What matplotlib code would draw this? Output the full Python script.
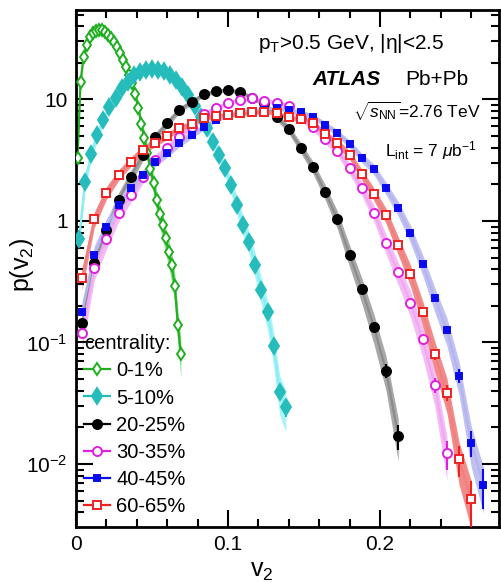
import numpy as np
import matplotlib
matplotlib.use("Agg")
import matplotlib.pyplot as plt
from matplotlib.ticker import FixedLocator, FixedFormatter, LogLocator, MultipleLocator, NullFormatter
from matplotlib.lines import Line2D

plt.rcParams['font.family'] = ['Liberation Sans', 'DejaVu Sans']
plt.rcParams['mathtext.fontset'] = 'custom'
plt.rcParams['mathtext.rm'] = 'Liberation Sans'
plt.rcParams['mathtext.it'] = 'Liberation Sans:italic'
plt.rcParams['mathtext.bf'] = 'Liberation Sans:bold'

# ---------------- data ----------------
labels = ["0-1%", "5-10%", "20-25%", "30-35%", "40-45%", "60-65%"]

v2_c0 = [0.001, 0.003, 0.005, 0.007, 0.009, 0.011, 0.013, 0.015, 0.017, 0.019,
         0.021, 0.023, 0.025, 0.027, 0.029, 0.031, 0.033, 0.035, 0.037, 0.039,
         0.041, 0.043, 0.045, 0.047, 0.049, 0.051, 0.053, 0.055, 0.057, 0.059,
         0.061, 0.063, 0.065, 0.067, 0.069]
p_c0 = [3.3, 14.0, 22.5, 28.0, 32.5, 35.0, 36.5, 37.3, 37.5, 36.0,
        34.0, 32.0, 29.5, 27.0, 24.0, 21.0, 18.5, 16.0, 13.6, 11.0,
        8.5, 6.3, 4.8, 3.6, 2.7, 2.05, 1.5, 1.15, 0.92, 0.72,
        0.56, 0.43, 0.29, 0.14, 0.08]

v2_c5 = [0.002, 0.006, 0.010, 0.014, 0.018, 0.022, 0.026, 0.030, 0.034, 0.038,
         0.042, 0.046, 0.050, 0.054, 0.058, 0.062, 0.066, 0.070, 0.074, 0.078,
         0.082, 0.086, 0.090, 0.094, 0.098, 0.102, 0.106, 0.110, 0.114, 0.118,
         0.122, 0.126, 0.130, 0.134, 0.138]
p_c5 = [0.707, 2.11, 3.58, 5.10, 6.78, 8.63, 10.2, 12.4, 14.0, 15.9,
        16.9, 17.5, 17.7, 17.5, 17.2, 15.9, 14.5, 12.7, 10.9, 8.9,
        7.22, 5.79, 4.50, 3.49, 2.71, 1.98, 1.35, 0.927, 0.668, 0.434,
        0.271, 0.177, 0.0941, 0.0394, 0.0293]

v2_c20 = [0.004, 0.012, 0.020, 0.028, 0.036, 0.044, 0.052, 0.060, 0.068, 0.076,
          0.084, 0.092, 0.100, 0.108, 0.116, 0.124, 0.132, 0.140, 0.148, 0.156,
          0.164, 0.172, 0.180, 0.188, 0.196, 0.204, 0.212]
p_c20 = [0.145, 0.451, 0.84, 1.49, 2.31, 3.49, 4.89, 6.37, 8.20, 9.53,
         11.0, 11.7, 12.0, 11.5, 10.3, 9.30, 7.21, 5.69, 3.99, 2.76,
         1.73, 1.03, 0.525, 0.275, 0.134, 0.0586, 0.0170]

v2_c30 = [0.004, 0.012, 0.020, 0.028, 0.036, 0.044, 0.052, 0.060, 0.068, 0.076,
          0.084, 0.092, 0.100, 0.108, 0.116, 0.124, 0.132, 0.140, 0.148, 0.156,
          0.164, 0.172, 0.180, 0.188, 0.196, 0.204, 0.212, 0.220, 0.228, 0.236,
          0.244]
p_c30 = [0.120, 0.408, 0.707, 1.16, 1.64, 2.31, 3.18, 3.99, 4.91, 5.94,
         7.55, 8.47, 9.30, 9.91, 10.2, 9.78, 9.41, 8.84, 7.0, 5.94,
         4.73, 3.79, 2.71, 1.86, 1.17, 0.655, 0.377, 0.213, 0.106, 0.0447,
         0.0122]

v2_c40 = [0.004, 0.012, 0.020, 0.028, 0.036, 0.044, 0.052, 0.060, 0.068, 0.076,
          0.084, 0.092, 0.100, 0.108, 0.116, 0.124, 0.132, 0.140, 0.148, 0.156,
          0.164, 0.172, 0.180, 0.188, 0.196, 0.204, 0.212, 0.220, 0.228, 0.236,
          0.244, 0.252, 0.260, 0.268]
p_c40 = [0.177, 0.525, 0.90, 1.35, 1.86, 2.39, 3.08, 3.65, 4.39, 5.10,
         5.94, 6.78, 7.60, 7.85, 8.09, 8.20, 8.47, 8.20, 7.85, 7.22,
         6.22, 5.30, 4.30, 3.32, 2.67, 1.86, 1.27, 0.792, 0.445, 0.231,
         0.127, 0.0533, 0.0150, 0.0067]

v2_c60 = [0.004, 0.012, 0.020, 0.028, 0.036, 0.044, 0.052, 0.060, 0.068, 0.076,
          0.084, 0.092, 0.100, 0.108, 0.116, 0.124, 0.132, 0.140, 0.148, 0.156,
          0.164, 0.172, 0.180, 0.188, 0.196, 0.204, 0.212, 0.220, 0.228, 0.236,
          0.244, 0.252, 0.260]
p_c60 = [0.341, 1.03, 1.71, 2.39, 3.08, 3.84, 4.39, 5.01, 5.83, 6.28,
         7.04, 7.32, 7.45, 7.70, 7.85, 7.94, 7.70, 7.14, 6.87, 6.37,
         5.20, 4.39, 3.49, 2.42, 1.67, 1.11, 0.634, 0.363, 0.179, 0.0804,
         0.0387, 0.0110, 0.00512]

series = [
    # x, y, marker, marker color, facecolor, line color, band color, marker size
    (v2_c0, p_c0, 'd', '#1fae1f', 'white', '#22b022', '#8fe08f', 6.5),
    (v2_c5, p_c5, 'd', '#27bcbc', '#27bcbc', '#86eef4', '#a8f4f8', 8.0),
    (v2_c20, p_c20, 'o', 'black', 'black', '#8c8c8c', '#a8a8a8', 6.5),
    (v2_c30, p_c30, 'o', '#e020e0', 'white', '#f2a6f2', '#f4bcf4', 6.5),
    (v2_c40, p_c40, 's', '#0a0aee', '#0a0aee', '#b4b4ee', '#c0c0f2', 5.0),
    (v2_c60, p_c60, 's', '#ee2222', 'white', '#f08080', '#f38a8a', 5.8),
]

# ---------------- figure ----------------
fig = plt.figure(figsize=(5.01, 5.83), dpi=100)
ax = fig.add_axes([0.1517, 0.0961, 0.8443, 0.8868])
ax.set_yscale('log')
ax.set_xlim(0, 0.2783)
ax.set_ylim(0.00303, 54.5)

for (x, y, m, mc, fc, lc, bc, ms) in series:
    x = np.asarray(x)
    y = np.asarray(y)
    rel = 0.04 + 0.12 * np.log10(y.max() / y)
    ax.fill_between(x, y * (1 - rel), y * (1 + rel), color=bc, lw=0, zorder=1)
    ax.plot(x, y, '-', color=lc, lw=1.6, zorder=2)
    yerr = np.minimum(0.5, 0.03 / np.sqrt(y)) * y
    ax.errorbar(x, y, yerr=yerr, fmt='none', ecolor=mc, elinewidth=1.5, zorder=3)
    ax.plot(x, y, linestyle='none', marker=m, markersize=ms, markeredgecolor=mc,
            markerfacecolor=fc, markeredgewidth=1.4, zorder=4)

# ticks
ax.xaxis.set_major_locator(FixedLocator([0, 0.1, 0.2]))
ax.xaxis.set_major_formatter(FixedFormatter(['0', '0.1', '0.2']))
ax.xaxis.set_minor_locator(MultipleLocator(0.02))
ax.yaxis.set_major_locator(FixedLocator([0.01, 0.1, 1, 10]))
ax.yaxis.set_major_formatter(FixedFormatter([r'$10^{-2}$', r'$10^{-1}$', '1', '10']))
ax.yaxis.set_minor_locator(LogLocator(base=10, subs=np.arange(2, 10)))
ax.yaxis.set_minor_formatter(NullFormatter())
ax.tick_params(which='both', direction='in', top=True, right=True, labelsize=15, width=1.5)
ax.tick_params(which='major', length=12, pad=6)
ax.tick_params(which='minor', length=6)
for s in ax.spines.values():
    s.set_linewidth(2)

ax.set_xlabel(r'v$_2$', fontsize=18)
ax.xaxis.set_label_coords(0.44, -0.062)
ax.set_ylabel(r'p(v$_2$)', fontsize=18)
ax.yaxis.set_label_coords(-0.095, 0.507)

# annotations
ax.text(0.430, 0.936, 'p$_\\mathrm{T}$>0.5 GeV, |\u03b7|<2.5', transform=ax.transAxes,
        fontsize=15, va='center', ha='left')
ax.text(0.560, 0.865, 'ATLAS', transform=ax.transAxes, fontsize=15,
        fontweight='bold', fontstyle='italic', va='center', ha='left')
ax.text(0.778, 0.865, 'Pb+Pb', transform=ax.transAxes, fontsize=15, va='center', ha='left')
ax.text(0.655, 0.803, r'$\sqrt{s_\mathrm{NN}}$=2.76 TeV', transform=ax.transAxes,
        fontsize=12.5, va='center', ha='left')
ax.text(0.730, 0.729, r'L$_\mathrm{int}$ = 7 $\mu$b$^{-1}$', transform=ax.transAxes,
        fontsize=12.5, va='center', ha='left')

handles = []
for (x, y, m, mc, fc, lc, bc, ms), lab in zip(series, labels):
    handles.append(Line2D([], [], color=mc, lw=1.6, marker=m, markersize=ms,
                          markeredgecolor=mc, markerfacecolor=fc, markeredgewidth=1.4,
                          label=lab))
leg = ax.legend(handles=handles, title='centrality:', loc='upper left',
                bbox_to_anchor=(0.0, 0.388), frameon=False, fontsize=14.5,
                title_fontsize=14.5, handlelength=1.3, handletextpad=0.3,
                labelspacing=0.40, borderaxespad=0.2, borderpad=0.2)
leg._legend_box.align = 'left'

fig.savefig('out.png', dpi=100)
